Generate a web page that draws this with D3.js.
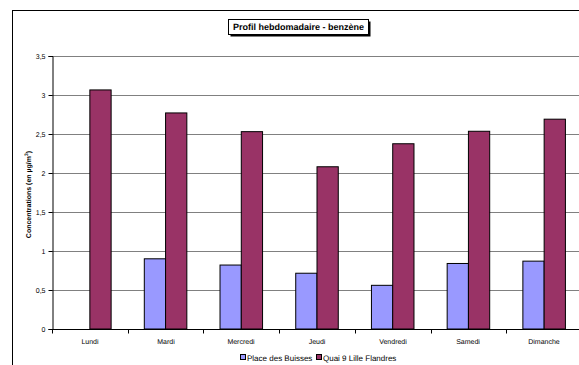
<!DOCTYPE html>
<html>
<head>
<meta charset="utf-8">
<script src="https://cdn.jsdelivr.net/npm/d3@7"></script>
<style>
  html, body { margin: 0; padding: 0; background: #fff; }
  svg { display: block; font-family: "Liberation Sans", Arial, sans-serif;
        -webkit-font-smoothing: antialiased; text-rendering: geometricPrecision; }
  text { fill: #000; }
</style>
</head>
<body>
<script>
// Weekly benzene profile, two monitoring sites
const days = ["Lundi", "Mardi", "Mercredi", "Jeudi", "Vendredi", "Samedi", "Dimanche"];
const seriesNames = ["Place des Buisses", "Quai 9 Lille Flandres"];
const placeBuisses = [null, 0.90, 0.82, 0.715, 0.56, 0.84, 0.87];
const quaiLille = [3.065, 2.77, 2.53, 2.08, 2.375, 2.535, 2.69];
const yTicks = [0, 0.5, 1, 1.5, 2, 2.5, 3, 3.5];
const colors = ["#9999FF", "#993366"];

const W = 579, H = 365;
const svg = d3.select("body").append("svg").attr("width", W).attr("height", H);

// outer chart frame (extends past the right/bottom edge)
svg.append("rect").attr("x", 12.5).attr("y", 10.5).attr("width", 600).attr("height", 400)
  .attr("fill", "#fff").attr("stroke", "#000").attr("stroke-width", 1);

const plot = { left: 52, right: 582, top: 56, bottom: 329 };

const x = d3.scaleBand().domain(days).range([plot.left, plot.right]).paddingInner(0).paddingOuter(0);
const xs = d3.scaleBand().domain([0, 1]).range([0, x.bandwidth()]).paddingInner(0).paddingOuter(0.78);
const y = d3.scaleLinear().domain([0, 3.5]).range([plot.bottom, plot.top]);

// gridlines
svg.append("g").selectAll("line").data(yTicks.filter(d => d > 0)).join("line")
  .attr("x1", plot.left).attr("x2", plot.right)
  .attr("y1", d => Math.round(y(d)) + 0.5).attr("y2", d => Math.round(y(d)) + 0.5)
  .attr("stroke", "#808080").attr("stroke-width", 1);

// bars
const series = [placeBuisses, quaiLille];
series.forEach((vals, si) => {
  svg.append("g").selectAll("rect")
    .data(days.map((d, i) => ({ day: d, v: vals[i] })).filter(d => d.v != null))
    .join("rect")
    .attr("x", d => x(d.day) + xs(si))
    .attr("y", d => y(d.v))
    .attr("width", xs.bandwidth())
    .attr("height", d => y(0) - y(d.v))
    .attr("fill", colors[si])
    .attr("stroke", "#000").attr("stroke-width", 1);
});

// y axis
const yAxis = d3.axisLeft(y).tickValues(yTicks).tickSize(4)
  .tickFormat(d => String(d).replace(".", ","));
const gy = svg.append("g").attr("transform", `translate(${plot.left + 0.5},0)`).call(yAxis);
gy.select(".domain").attr("stroke", "#000");
gy.selectAll(".tick line").attr("stroke", "#000");
gy.selectAll(".tick text").attr("font-size", 7).attr("fill", "#000")
  .attr("font-family", "Liberation Sans, Arial, sans-serif").attr("x", -7);

// x axis
const gx = svg.append("g").attr("transform", `translate(0,${plot.bottom + 0.5})`);
gx.append("line").attr("x1", plot.left).attr("x2", plot.right).attr("stroke", "#000");
gx.selectAll("line.tk").data(days.map(d => x(d)).concat([plot.right])).join("line")
  .attr("class", "tk")
  .attr("x1", d => Math.round(d) + 0.5).attr("x2", d => Math.round(d) + 0.5)
  .attr("y1", 0).attr("y2", 4).attr("stroke", "#000");
gx.selectAll("text.lbl").data(days).join("text")
  .attr("class", "lbl")
  .attr("x", d => Math.round(x(d) + x.bandwidth() / 2)).attr("y", 14)
  .attr("text-anchor", "middle").attr("font-size", 7).attr("fill", "#000")
  .text(d => d);

// y axis title
svg.append("text")
  .attr("transform", `translate(31,${(plot.top + plot.bottom) / 2 + 2}) rotate(-90)`)
  .attr("text-anchor", "middle").attr("font-size", 7).attr("font-weight", "bold").attr("fill", "#000")
  .html('Concentrations (en µg/m<tspan dy="-3" font-size="5">3</tspan><tspan dy="3">)</tspan>');

// title box with shadow
const tb = { x: 228.5, y: 19.5, w: 140, h: 15 };
svg.append("rect").attr("x", tb.x + 2).attr("y", tb.y + 2).attr("width", tb.w).attr("height", tb.h).attr("fill", "#000");
svg.append("rect").attr("x", tb.x).attr("y", tb.y).attr("width", tb.w).attr("height", tb.h)
  .attr("fill", "#fff").attr("stroke", "#000").attr("stroke-width", 1);
svg.append("text").attr("x", tb.x + tb.w / 2).attr("y", tb.y + 10.5)
  .attr("text-anchor", "middle").attr("font-size", 9).attr("font-weight", "bold").attr("fill", "#000")
  .text("Profil hebdomadaire - benzène");

// legend
const lg = svg.append("g").attr("transform", "translate(240,361)");
const legendX = [0, 76];
seriesNames.forEach((name, i) => {
  lg.append("rect").attr("x", legendX[i] + 0.5).attr("y", -6.5).attr("width", 5).attr("height", 5)
    .attr("fill", colors[i]).attr("stroke", "#000").attr("stroke-width", 1);
  lg.append("text").attr("x", legendX[i] + 7).attr("y", 0).attr("font-size", 8).attr("fill", "#000").text(name);
});
</script>
</body>
</html>
